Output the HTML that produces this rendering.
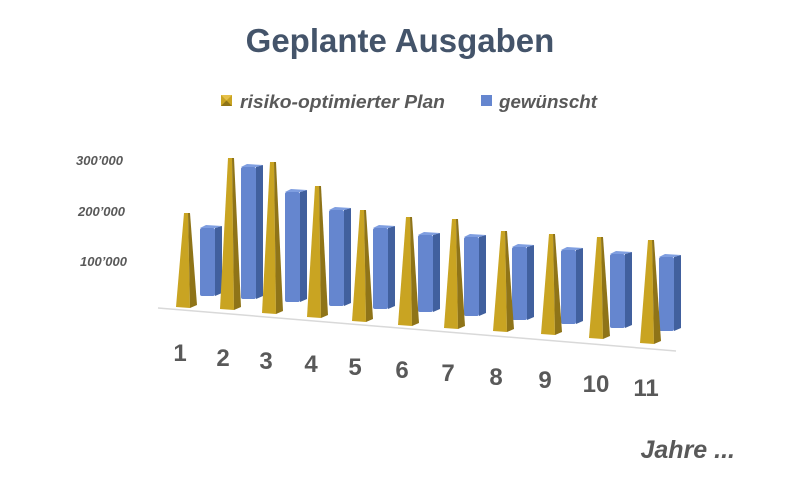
<!DOCTYPE html>
<html><head><meta charset="utf-8"><style>
html,body{margin:0;padding:0;background:#fff;width:800px;height:504px;overflow:hidden}
text{font-family:"Liberation Sans",sans-serif}
</style></head><body>
<svg width="800" height="504" viewBox="0 0 800 504" xmlns="http://www.w3.org/2000/svg">
<text x="400" y="52" text-anchor="middle" font-size="33" font-weight="bold" fill="#44546a">Geplante Ausgaben</text>
<rect x="221" y="95" width="11" height="11" fill="#c9a422"/><polygon points="221,95 232,95 226.5,100.5" fill="#e6c04a"/><polygon points="221,106 232,106 226.5,100.5" fill="#8f7418"/>
<text x="240" y="108" font-size="18" font-weight="bold" font-style="italic" fill="#595959" textLength="205" lengthAdjust="spacingAndGlyphs">risiko-optimierter Plan</text>
<rect x="481" y="95" width="11" height="11" fill="#6586cf"/>
<text x="499" y="108" font-size="18" font-weight="bold" font-style="italic" fill="#595959" textLength="98" lengthAdjust="spacingAndGlyphs">gewünscht</text>
<g font-size="13" font-weight="bold" font-style="italic" fill="#595959" text-anchor="end">
<text x="123" y="165">300’000</text><text x="125" y="216">200’000</text><text x="127" y="266">100’000</text>
</g>
<line x1="158" y1="308" x2="676" y2="351" stroke="#d9d9d9" stroke-width="1.5"/>
<g id="bars"></g>
<g font-size="24" font-weight="bold" fill="#595959" text-anchor="middle">
<text x="180" y="361">1</text><text x="223" y="366">2</text><text x="266" y="369">3</text><text x="311" y="372">4</text><text x="355" y="375">5</text><text x="402" y="378">6</text><text x="448" y="381">7</text><text x="496" y="385">8</text><text x="545" y="388">9</text><text x="596" y="392">10</text><text x="646" y="396">11</text>
</g>
<text x="735" y="458" text-anchor="end" font-size="25" font-weight="bold" font-style="italic" fill="#595959">Jahre ...</text>
</svg>
<script>
var P=[[187,213,307],[231,158,309],[273,162,313],[318,186,317],[363,210,321],[409,217,325],[455,219,328],[504,231,331],[552,234,334],[600,237,338],[651,240,343]];
var B=[[200,228,296],[241,167,299],[285,192,302],[329,210,306],[373,228,309],[418,235,312],[464,237,316],[512,247,320],[561,250,324],[610,254,328],[659,257,331]];
var s='';
for(var i=0;i<11;i++){
var b=B[i],x=b[0],t=b[1],bo=b[2];
s+='<polygon points="'+(x+15)+','+t+' '+(x+22)+','+(t-2)+' '+(x+22)+','+(bo-3)+' '+(x+15)+','+bo+'" fill="#41609e"/>';
s+='<rect x="'+x+'" y="'+t+'" width="15" height="'+(bo-t)+'" rx="2" fill="#6586cf"/>';
s+='<polygon points="'+x+','+t+' '+(x+6)+','+(t-3)+' '+(x+22)+','+(t-2)+' '+(x+15)+','+t+'" fill="#7f9ee0"/>';
var p=P[i],c=p[0],tp=p[1],pb=p[2];
s+='<polygon points="'+(c-11)+','+pb+' '+(c+3)+','+(pb+1)+' '+(c+1)+','+tp+' '+(c-3)+','+tp+'" fill="#c9a422"/>';
s+='<polygon points="'+(c+3)+','+(pb+1)+' '+(c+10)+','+(pb-2)+' '+(c+3)+','+tp+' '+(c+1)+','+tp+'" fill="#8f7418"/>';
}
document.getElementById('bars').innerHTML=s;
</script>
</body></html>
